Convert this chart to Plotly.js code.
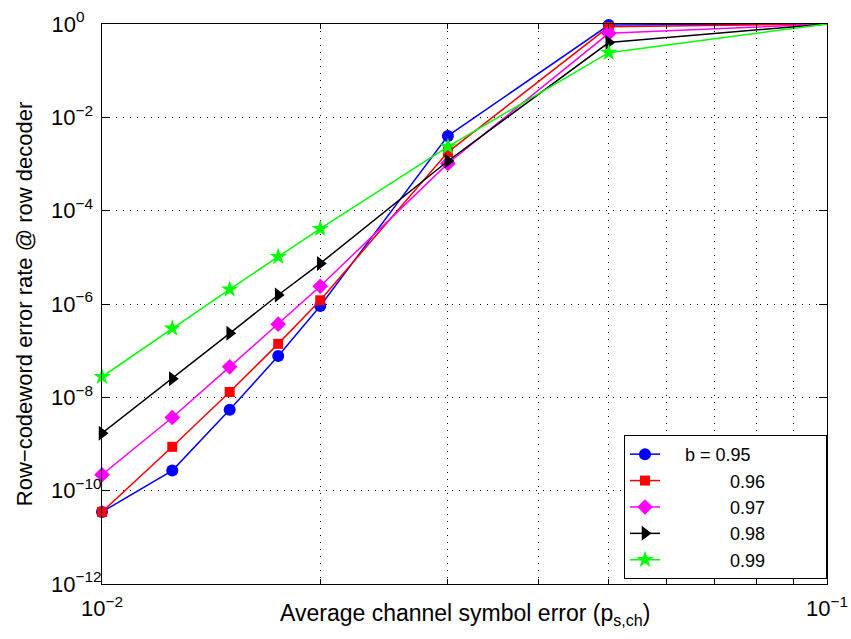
<!DOCTYPE html>
<html>
<head>
<meta charset="utf-8">
<script src="https://cdn.plot.ly/plotly-3.0.1.min.js"></script>
<style>html,body{margin:0;padding:0;background:#fff;}#chart{width:851px;height:639px;}</style>
</head>
<body>
<div id="chart"></div>
<script>
const xVals = [0.01, 0.0125, 0.015, 0.0175, 0.02, 0.03, 0.05, 0.1];
const b95 = [3.5e-11, 2.7e-10, 5.4e-9, 7.7e-8, 9.1e-7, 4.0e-3, 0.95, 1.0];
const b96 = [3.5e-11, 8.7e-10, 1.3e-8, 1.4e-7, 1.2e-6, 1.8e-3, 0.87, 1.0];
const b97 = [2.2e-10, 3.7e-9, 4.5e-8, 3.7e-7, 2.4e-6, 1.03e-3, 0.63, 1.0];
const b98 = [1.7e-9, 2.5e-8, 2.35e-7, 1.56e-6, 7.4e-6, 1.16e-3, 0.40, 1.0];
const b99 = [2.76e-8, 3.0e-7, 2.06e-6, 1.03e-5, 4.1e-5, 2.35e-3, 0.243, 1.0];

const seriesNames = ['b = 0.95', '0.96', '0.97', '0.98', '0.99'];
const yTickVals = [1, 1e-2, 1e-4, 1e-6, 1e-8, 1e-10, 1e-12];
const yExponents = ['0', '\u22122', '\u22124', '\u22126', '\u22128', '\u221210', '\u221212'];
const xTickVals = [0.01, 0.1];
const xExponents = ['\u22122', '\u22121'];
const xMinorVals = [0.02, 0.03, 0.04, 0.05, 0.06, 0.07, 0.08, 0.09];
const xTitle = 'Average channel symbol error (p<sub>s,ch</sub>)';
const yTitle = 'Row\u2212codeword error rate @ row decoder';

const NB = '\u00A0';
// pad shorter exponents so the "10" of every y label lines up on the left, like the reference
const padFor = e => NB.repeat(e.length === 1 ? 4 : (e.length === 2 ? 2 : 0));
const yTickText = yExponents.map(e => '10<sup>' + e + padFor(e) + '</sup>');
const xTickText = xExponents.map(e => '10<sup>' + e + '</sup>');

const labels = seriesNames.map((n, i) => NB.repeat(i === 0 ? 4 : 13) + n + NB.repeat(11));

const styles = [
  {color: '#0000ff', symbol: 'circle', size: 12},
  {color: '#ff0000', symbol: 'square', size: 10},
  {color: '#ff00ff', symbol: 'diamond', size: 12},
  {color: '#000000', symbol: 'triangle-right', size: 13},
  {color: '#00ff00', symbol: 'star', size: 13}
];
const ys = [b95, b96, b97, b98, b99];

const traces = ys.map((y, i) => ({
  x: xVals, y: y, type: 'scatter', mode: 'lines+markers',
  name: labels[i], cliponaxis: false,
  line: {color: styles[i].color, width: 1.5},
  marker: {color: styles[i].color, symbol: styles[i].symbol, size: styles[i].size, line: {width: 0}}
}));

const font = {family: '"Liberation Sans", Arial, Helvetica, sans-serif', color: '#000'};

const layout = {
  width: 851, height: 639,
  margin: {l: 102, r: 24, t: 24, b: 55, pad: 0},
  paper_bgcolor: '#fff', plot_bgcolor: '#fff',
  font: Object.assign({size: 20}, font),
  showlegend: true,
  legend: {
    x: 1, xanchor: 'right', y: 0.009, yanchor: 'bottom',
    bgcolor: '#fff', bordercolor: '#000', borderwidth: 1,
    font: Object.assign({size: 18}, font)
  },
  xaxis: {
    type: 'log', range: [-2, -1],
    tickvals: xTickVals, ticktext: xTickText,
    ticks: 'inside', ticklen: 8, tickcolor: '#000',
    showline: true, linecolor: '#000', linewidth: 1, mirror: 'ticks',
    showgrid: false, automargin: false, ticklabelstandoff: 5,
    tickfont: Object.assign({size: 22}, font),
    minor: {tickvals: xMinorVals, ticks: 'inside', ticklen: 5, tickcolor: '#000',
            showgrid: true, gridcolor: '#000', gridwidth: 1, griddash: '1px,6px'}
  },
  yaxis: {
    type: 'log', range: [-12, 0],
    tickvals: yTickVals, ticktext: yTickText,
    ticks: 'inside', ticklen: 8, tickcolor: '#000',
    showline: true, linecolor: '#000', linewidth: 1, mirror: 'ticks',
    showgrid: true, gridcolor: '#000', gridwidth: 1, griddash: '1px,6px',
    automargin: false, ticklabelstandoff: -5,
    tickfont: Object.assign({size: 22}, font),
    title: {text: yTitle, font: Object.assign({size: 22}, font), standoff: 12}
  },
  annotations: [{
    text: xTitle, xref: 'paper', yref: 'paper', x: 0.5, y: -0.055,
    xanchor: 'center', yanchor: 'middle', showarrow: false,
    font: Object.assign({size: 23}, font)
  }]
};

Plotly.newPlot('chart', traces, layout, {displayModeBar: false, staticPlot: true});
</script>
</body>
</html>
